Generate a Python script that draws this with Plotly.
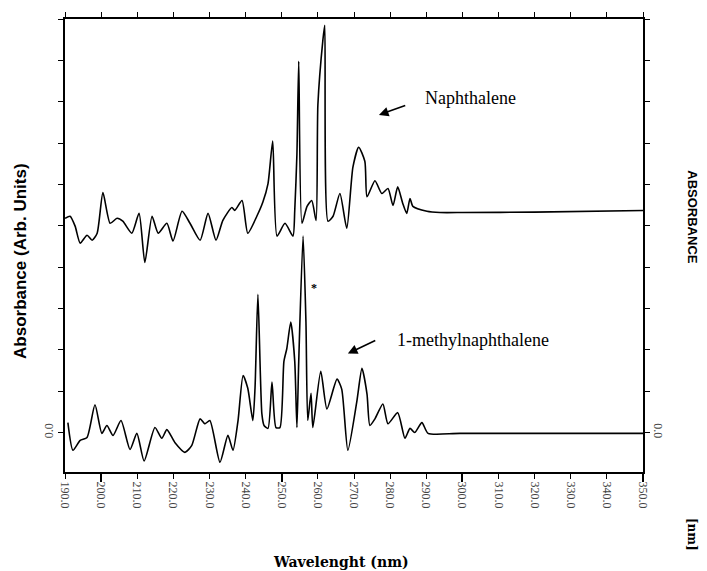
import plotly.graph_objects as go

# ---------------- data ----------------
naph_wl = [190.0, 191.4, 192.8, 194.2, 196.1, 197.5, 198.9, 200.5, 202.5, 204.4, 206.0, 208.5,
           210.5, 212.1, 214.1, 215.8, 218.2, 219.9, 222.4, 224.6, 227.4, 229.6, 231.8, 233.7,
           236.2, 237.0, 239.0, 240.6, 243.1, 244.8, 246.2, 247.5, 248.7, 250.9, 253.1, 253.6,
           254.2, 254.7, 255.6, 257.0, 258.3, 259.5, 260.0, 261.4, 261.9, 262.8, 264.2, 266.1,
           268.0, 269.7, 271.3, 273.0, 273.6, 275.8, 277.7, 279.4, 280.8, 282.1, 283.5, 284.6,
           285.5, 286.3, 290.2, 293.8, 300.0, 320.0, 350.0]
naph_abs = [0.18, 0.23, -0.01, -0.42, -0.23, -0.35, -0.18, 0.80, 0.06, 0.18, 0.11, -0.18,
            0.30, -0.89, 0.23, -0.18, 0.06, -0.37, 0.35, 0.06, -0.35, 0.30, -0.35, 0.13,
            0.44, 0.37, 0.61, -0.18, 0.23, 0.58, 1.02, 2.05, -0.25, 0.06, -0.25, 0.37,
            1.73, 3.98, 0.06, 0.47, 0.61, 0.13, 2.92, 4.50, 4.85, 0.11, 0.23, 0.78,
            -0.06, 1.42, 1.90, 1.56, 0.70, 1.09, 0.78, 0.90, 0.49, 0.94, 0.54, 0.30,
            0.66, 0.47, 0.35, 0.32, 0.32, 0.33, 0.37]
naph_offset = 5.0

meth_wl = [190.8, 192.2, 194.2, 196.1, 198.3, 200.2, 201.6, 203.3, 205.5, 208.0, 209.9, 211.9,
           214.9, 216.8, 218.2, 220.4, 223.2, 225.1, 227.4, 228.7, 230.1, 232.9, 235.1, 236.5,
           237.9, 239.3, 240.6, 242.0, 242.6, 243.4, 244.5, 245.1, 246.2, 247.3, 248.4, 249.5,
           250.6, 251.4, 252.5, 253.6, 254.2, 254.7, 255.9, 256.7, 257.2, 258.1, 258.6, 260.8,
           262.5, 265.3, 266.6, 268.3, 270.8, 272.2, 273.6, 274.4, 275.8, 278.0, 279.4, 282.1,
           284.1, 285.5, 286.8, 288.8, 290.5, 299.3, 350.0]
meth_abs = [0.24, -0.43, -0.19, -0.12, 0.67, -0.02, 0.17, -0.07, 0.29, -0.41, -0.02, -0.69,
            0.12, -0.14, 0.07, -0.24, -0.48, -0.31, 0.33, 0.21, 0.29, -0.72, -0.07, -0.43,
            0.29, 1.38, 1.07, 0.29, 1.07, 3.34, 0.45, 0.17, 0.10, 1.22, 0.12, 0.12,
            1.72, 2.03, 2.67, 1.72, 0.12, 1.72, 4.75, 2.67, 0.29, 0.95, 0.12, 1.48,
            0.57, 1.29, 1.05, -0.43, 0.76, 1.55, 0.93, 0.17, 0.33, 0.69, 0.21, 0.48,
            -0.14, 0.10, 0.00, 0.24, -0.02, -0.02, -0.02]

x_ticks = [190, 200, 210, 220, 230, 240, 250, 260, 270, 280, 290, 300, 310, 320, 330, 340, 350]
x_labels = ["190.0", "200.0", "210.0", "220.0", "230.0", "240.0", "250.0", "260.0", "270.0",
            "280.0", "290.0", "300.0", "310.0", "320.0", "330.0", "340.0", "350.0"]
y_ticks = [0, 1, 2, 3, 4, 5, 6, 7, 8, 9, 10]
y_labels = ["0.0", "", "", "", "", "", "", "", "", "", ""]

# ---------------- figure ----------------
fig = go.Figure()
fig.add_trace(go.Scatter(x=naph_wl, y=[v + naph_offset for v in naph_abs], mode="lines",
                         line=dict(color="black", width=1.6, shape="spline", smoothing=0.6),
                         showlegend=False))
fig.add_trace(go.Scatter(x=meth_wl, y=meth_abs, mode="lines",
                         line=dict(color="black", width=1.6, shape="spline", smoothing=0.6),
                         showlegend=False))
# invisible trace for secondary axes (long ticks / right labels)
fig.add_trace(go.Scatter(x=[190, 350], y=[0, 0], xaxis="x2", yaxis="y2", mode="lines",
                         line=dict(width=0), hoverinfo="skip", showlegend=False))

tickfont = dict(family="Liberation Serif", size=12, color="#444")
fig.update_layout(
    width=707, height=571,
    margin=dict(l=65, r=64, t=13, b=99),
    paper_bgcolor="white", plot_bgcolor="white",
    xaxis=dict(range=[190, 350], tickvals=x_ticks, ticktext=x_labels, tickangle=90,
               ticks="outside", ticklen=5, tickwidth=1.2, tickcolor="black",
               showline=True, linecolor="black", linewidth=2, mirror="ticks",
               showgrid=False, zeroline=False, tickfont=tickfont),
    yaxis=dict(range=[-0.955, 10.0], tickvals=y_ticks, ticktext=y_labels, tickangle=-90,
               ticks="outside", ticklen=5, tickwidth=1.2, tickcolor="black",
               showline=True, linecolor="black", linewidth=2, mirror="ticks",
               showgrid=False, zeroline=False, tickfont=tickfont),
    xaxis2=dict(range=[190, 350], overlaying="x", tickvals=[200, 250, 300, 350],
                showticklabels=False, ticks="outside", ticklen=9, tickwidth=1.5,
                tickcolor="black", showgrid=False, zeroline=False, anchor="y2"),
    yaxis2=dict(range=[-0.955, 10.0], overlaying="y", side="right", tickvals=[0],
                ticktext=["0.0"], tickangle=90, ticks="outside", ticklen=5,
                tickwidth=1.2, tickcolor="black", showgrid=False, zeroline=False,
                tickfont=tickfont),
)

ann_font = dict(family="Liberation Serif", size=18, color="black")
fig.add_annotation(x=289.1, y=8.09, text="Naphthalene", showarrow=False, xanchor="left",
                   yanchor="middle", font=ann_font)
fig.add_annotation(x=276.9, y=7.68, ax=284.6, ay=7.92, axref="x", ayref="y", text="",
                   showarrow=True, arrowhead=2, arrowsize=1.2, arrowwidth=1.6, arrowcolor="black")
fig.add_annotation(x=281.3, y=2.24, text="1-methylnaphthalene", showarrow=False, xanchor="left",
                   yanchor="middle", font=ann_font)
fig.add_annotation(x=268.3, y=1.91, ax=276.3, ay=2.24, axref="x", ayref="y", text="",
                   showarrow=True, arrowhead=2, arrowsize=1.2, arrowwidth=1.6, arrowcolor="black")
fig.add_annotation(x=258.8, y=3.5, text="<b>*</b>", showarrow=False,
                   font=dict(family="Liberation Serif", size=12, color="black"))

fig.add_annotation(xref="paper", yref="paper", x=-0.076, y=0.466,
                   xanchor="center", yanchor="middle",
                   text="<b>Absorbance (Arb. Units)</b>", textangle=-90, showarrow=False,
                   font=dict(family="Liberation Sans", size=17, color="black"))
fig.add_annotation(xref="paper", yref="paper", x=0.478, y=-0.198, text="<b>Wavelenght (nm)</b>",
                   xanchor="center", yanchor="middle", showarrow=False,
                   font=dict(family="DejaVu Serif", size=14, color="black"))
fig.add_annotation(xref="paper", yref="paper", x=1.085, y=0.562, text="<b>ABSORBANCE</b>",
                   xanchor="center", yanchor="middle", textangle=90, showarrow=False,
                   font=dict(family="Liberation Sans", size=13, color="black"))
fig.add_annotation(xref="paper", yref="paper", x=1.085, y=-0.137, text="<b>[nm]</b>",
                   xanchor="center", yanchor="middle", textangle=90, showarrow=False,
                   font=dict(family="DejaVu Serif", size=12, color="black"))

fig.write_html("out.html")
